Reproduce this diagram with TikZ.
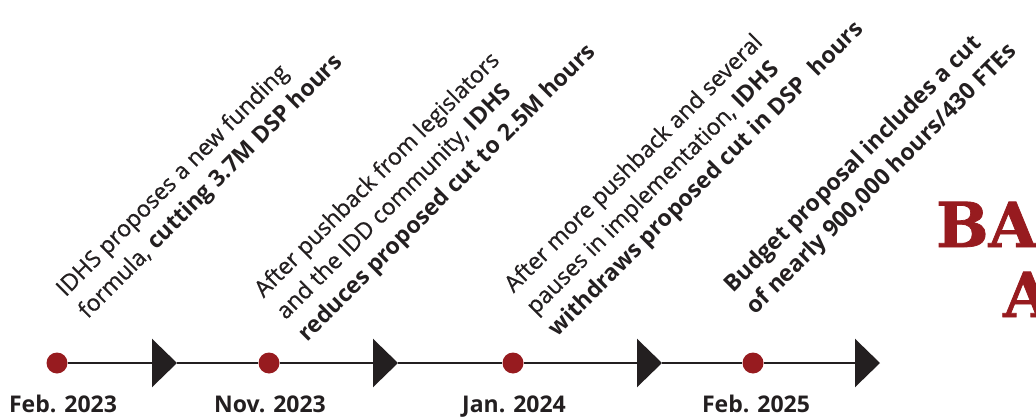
\documentclass[tikz,border=0pt]{standalone}
\usepackage{fontspec}
\setmainfont{Open Sans}[UprightFeatures={FakeBold=0.6}]
\newfontfamily\slabfont{DejaVu Serif}[BoldFeatures={FakeBold=1.2}]
\usetikzlibrary{arrows.meta, positioning}

\definecolor{idhsred}{HTML}{971B1F}
\definecolor{ink}{HTML}{231F20}

\begin{document}
\begin{tikzpicture}[x=1pt, y=-1pt, >={Triangle[length=25pt, width=48pt]},
  note/.style={rotate=45, anchor=north west, align=left, inner sep=0pt,
    text=ink, font=\fontsize{23}{31}\selectfont},
  dot/.style={circle, fill=idhsred, minimum size=21pt, inner sep=0pt},
  date/.style={anchor=base, inner sep=0pt, text=ink,
    font=\fontsize{23}{26}\selectfont\bfseries},
  tl/.style={draw=ink, line width=2.5pt},
  slab/.style={anchor=base west, inner sep=0pt, text=idhsred,
    font=\fontsize{62}{62}\slabfont\bfseries}]

  \useasboundingbox (0,0) rectangle (1036,417);
  \clip (0,0) rectangle (1036,417);

  % timeline
  \coordinate (t1) at (177,363);
  \coordinate (t2) at (398,363);
  \coordinate (t3) at (662,363);
  \coordinate (t4) at (880,363);
  \node[dot] (d1) at (57,363) {};
  \node[dot] (d2) at (269,363) {};
  \node[dot] (d3) at (513,363) {};
  \node[dot] (d4) at (753,363) {};

  \path[tl, ->] (d1) -- (t1);
  \path[tl] (t1) -- (d2);
  \path[tl, ->] (d2) -- (t2);
  \path[tl] (t2) -- (d3);
  \path[tl, ->] (d3) -- (t3);
  \path[tl] (t3) -- (d4);
  \path[tl, ->] (d4) -- (t4);

  % dates
  \node[date] (l1) at (63,412) {Feb. 2023};
  \node[date] (l2) at (270,412) {Nov. 2023};
  \node[date] (l3) at (514,412) {Jan. 2024};
  \node[date] (l4) at (756,412) {Feb. 2025};

  % events
  \node[note] (e1) at (53,285) {IDHS proposes a new funding\\
    formula, \textbf{cutting 3.7M DSP hours}};
  \node[note] (e2) at (251,286) {After pushback from legislators\\
    and the IDD community, \textbf{IDHS}\\
    \textbf{reduces proposed cut to 2.5M hours}};
  \node[note] (e3) at (501,281) {After more pushback and several\\
    pauses in implementation, \textbf{IDHS}\\
    \textbf{withdraws proposed cut in DSP\ \ hours}};
  \node[note, font=\fontsize{23}{31}\selectfont\bfseries] (e4) at (721,281)
    {Budget proposal includes a cut\\
    of nearly 900,000 hours/430 FTEs};

  % title (cut off at the edge)
  \node[slab] (h1) at (936,247) {BA};
  \node[slab] (h2) at (1003,317) {A};
\end{tikzpicture}
\end{document}
